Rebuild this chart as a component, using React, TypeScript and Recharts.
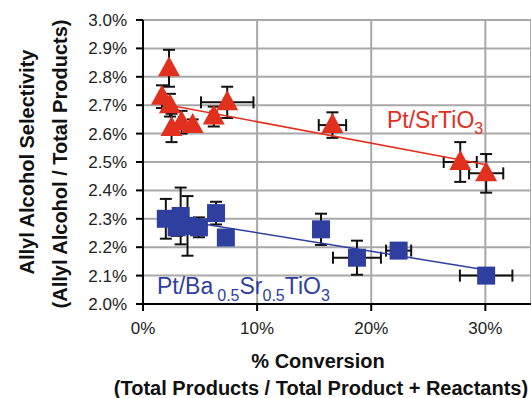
import { CartesianGrid, ErrorBar, Scatter, ScatterChart, XAxis, YAxis } from 'recharts';

const RED = '#e2301e';
const BLUE = '#2f3f9f';
const FONT = '"Liberation Sans", Arial, Helvetica, sans-serif';

// Pt/SrTiO3 (% conversion, % selectivity, error bars)
const srX = [1.66, 2.28, 2.36, 2.5, 3.38, 4.35, 6.2, 7.38, 16.6, 27.8, 30.07];
const srY = [2.73, 2.83, 2.7, 2.62, 2.64, 2.63, 2.66, 2.71, 2.63, 2.5, 2.46];
const srErrX = [0.2, 0.2, 0.2, 0.2, 0.2, 0.2, 0.3, 2.3, 1.2, 1.45, 1.5];
const srErrY = [0.04, 0.065, 0.04, 0.05, 0.04, 0.02, 0.035, 0.055, 0.045, 0.07, 0.068];

// Pt/Ba0.5Sr0.5TiO3
const bsX = [2.0, 3.3, 2.95, 3.9, 4.9, 6.4, 7.26, 15.6, 18.75, 22.4, 30.07];
const bsY = [2.3, 2.31, 2.27, 2.275, 2.27, 2.32, 2.234, 2.263, 2.163, 2.188, 2.1];
const bsErrX = [0.2, 0.2, 0.2, 0.2, 0.2, 0.2, 0.2, 0.3, 2.1, 1.1, 2.3];
const bsErrY = [0.07, 0.1, 0.03, 0.105, 0.035, 0.04, 0.01, 0.055, 0.06, 0.02, 0.01];

// linear trend lines
const srTrendX = [1.66, 30.07];
const srTrendY = [2.705, 2.49];
const bsTrendX = [2.0, 30.07];
const bsTrendY = [2.303, 2.12];

const xTicks = [0, 10, 20, 30];
const yTicks = [2.0, 2.1, 2.2, 2.3, 2.4, 2.5, 2.6, 2.7, 2.8, 2.9, 3.0];

const zip = (xs: number[], ys: number[], ex?: number[], ey?: number[]) =>
  xs.map((x, i) => ({ x, y: ys[i], ex: ex ? ex[i] : 0, ey: ey ? ey[i] : 0 }));

const srData = zip(srX, srY, srErrX, srErrY);
const bsData = zip(bsX, bsY, bsErrX, bsErrY);
const srTrend = zip(srTrendX, srTrendY);
const bsTrend = zip(bsTrendX, bsTrendY);

const Triangle = (p: any) => {
  const { cx, cy } = p;
  return (
    <polygon
      points={`${cx},${cy - 12} ${cx - 11},${cy + 8} ${cx + 11},${cy + 8}`}
      fill={RED}
    />
  );
};

const Square = (p: any) => {
  const { cx, cy } = p;
  return <rect x={cx - 9} y={cy - 9} width={18} height={18} fill={BLUE} />;
};

const NoShape = () => <g />;

const XTitle = () => (
  <g fontFamily={FONT} fontWeight="bold" fontSize={20} fill="#111" textAnchor="middle">
    <text x={318} y={368}>% Conversion</text>
    <text x={321} y={395}>(Total Products / Total Product + Reactants)</text>
    <text x={387} y={128} fill={RED} fontWeight="normal" fontSize={23} textAnchor="start">
      Pt/SrTiO<tspan dy={6} fontSize={16}>3</tspan>
    </text>
    <text x={157} y={294} fill={BLUE} fontWeight="normal" fontSize={23} textAnchor="start">
      Pt/Ba<tspan dx={4} dy={7} fontSize={16}>0.5</tspan>
      <tspan dy={-7}>Sr</tspan>
      <tspan dy={7} fontSize={16}>0.5</tspan>
      <tspan dy={-7}>TiO</tspan>
      <tspan dy={7} fontSize={16}>3</tspan>
    </text>
  </g>
);

const YTitle = () => (
  <g fontFamily={FONT} fontWeight="bold" fontSize={20} fill="#111" textAnchor="middle">
    <text x={34} y={162} transform="rotate(-90 34 162)">Allyl Alcohol Selectivity</text>
    <text x={67} y={164} transform="rotate(-90 67 164)">(Allyl Alcohol / Total Products)</text>
  </g>
);

export default function App() {
  return (
    <div style={{ position: 'absolute', left: 0, top: 0, width: 531, height: 398, overflow: 'hidden', background: '#fff' }}>
      <ScatterChart width={531} height={398} margin={{ top: 20, right: 0, bottom: 0, left: 0 }}>
        <CartesianGrid stroke="#a8a8a8" strokeWidth={2} />
        <XAxis
          type="number"
          dataKey="x"
          domain={[0, 34]}
          ticks={xTicks}
          allowDataOverflow
          tickFormatter={(v: number) => `${v}%`}
          height={94}
          stroke="#000"
          strokeWidth={2}
          tickSize={7}
          tickMargin={11}
          tick={{ fill: '#222', fontSize: 17, fontFamily: FONT }}
          label={XTitle}
        />
        <YAxis
          type="number"
          dataKey="y"
          domain={[2.0, 3.0]}
          ticks={yTicks}
          allowDataOverflow
          tickFormatter={(v: number) => `${v.toFixed(1)}%`}
          width={143}
          stroke="#000"
          strokeWidth={2}
          tickSize={7}
          tickMargin={9}
          tick={{ fill: '#222', fontSize: 17, fontFamily: FONT }}
          label={YTitle}
        />
        <Scatter data={srTrend} line={{ stroke: RED, strokeWidth: 1.5 }} shape={NoShape} isAnimationActive={false} />
        <Scatter data={bsTrend} line={{ stroke: BLUE, strokeWidth: 1.5 }} shape={NoShape} isAnimationActive={false} />
        <Scatter data={srData} shape={Triangle} isAnimationActive={false}>
          <ErrorBar dataKey="ey" direction="y" width={6} stroke="#111" strokeWidth={2} isAnimationActive={false} />
          <ErrorBar dataKey="ex" direction="x" width={6} stroke="#111" strokeWidth={2} isAnimationActive={false} />
        </Scatter>
        <Scatter data={bsData} shape={Square} isAnimationActive={false}>
          <ErrorBar dataKey="ey" direction="y" width={6} stroke="#111" strokeWidth={2} isAnimationActive={false} />
          <ErrorBar dataKey="ex" direction="x" width={6} stroke="#111" strokeWidth={2} isAnimationActive={false} />
        </Scatter>
      </ScatterChart>
    </div>
  );
}
